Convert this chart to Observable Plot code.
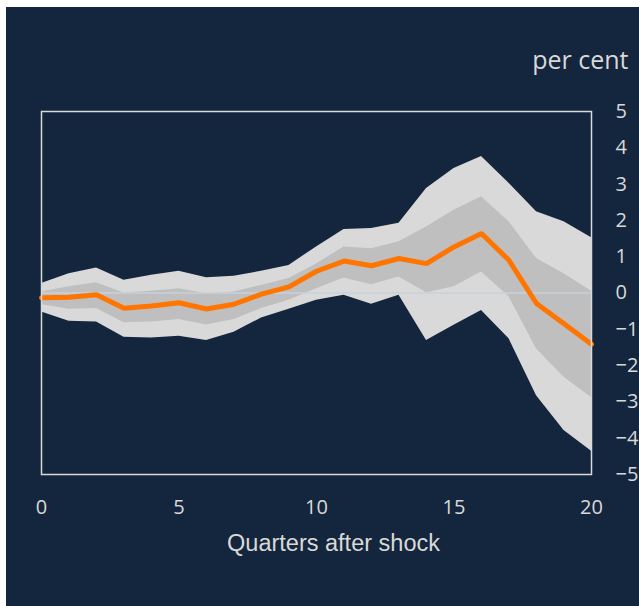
<!DOCTYPE html>
<html>
<head>
<meta charset="utf-8">
<script src="https://cdn.jsdelivr.net/npm/d3@7"></script>
<script src="https://cdn.jsdelivr.net/npm/@observablehq/plot@0.6"></script>
<style>
  html, body { margin: 0; padding: 0; background: #ffffff; width: 639px; height: 606px; overflow: hidden; }
  #bg { position: absolute; left: 6px; top: 7px; width: 633px; height: 599px; background: #13263d; }
  #chart { position: absolute; left: 0; top: 0; }
</style>
</head>
<body>
<div id="bg"></div>
<div id="chart"></div>
<script>
const quarters = [0,1,2,3,4,5,6,7,8,9,10,11,12,13,14,15,16,17,18,19,20];
const median = [-0.13,-0.12,-0.05,-0.42,-0.36,-0.27,-0.44,-0.31,-0.03,0.17,0.6,0.88,0.75,0.95,0.81,1.27,1.64,0.9,-0.29,-0.85,-1.41];
const outerUpper = [0.26,0.53,0.69,0.35,0.49,0.6,0.42,0.46,0.6,0.76,1.27,1.75,1.78,1.92,2.88,3.43,3.76,3.02,2.24,1.96,1.52];
const innerUpper = [0.03,0.17,0.28,0.0,0.05,0.12,-0.02,0.03,0.21,0.4,0.8,1.27,1.22,1.41,1.82,2.28,2.65,1.96,0.95,0.53,0.05];
const innerLower = [-0.32,-0.45,-0.43,-0.82,-0.8,-0.73,-0.88,-0.73,-0.43,-0.2,0.12,0.41,0.23,0.44,0.01,0.17,0.58,-0.1,-1.54,-2.32,-2.88];
const outerLower = [-0.52,-0.78,-0.8,-1.22,-1.24,-1.19,-1.31,-1.08,-0.69,-0.45,-0.2,-0.06,-0.31,-0.06,-1.31,-0.89,-0.48,-1.26,-2.83,-3.79,-4.36];
const xTicks = [0,5,10,15,20];
const yTicks = [5,4,3,2,1,0,-1,-2,-3,-4,-5];
const unitLabel = "per cent";
const xTitle = "Quarters after shock";

const data = quarters.map((q, i) => ({
  q, med: median[i], ou: outerUpper[i], iu: innerUpper[i], il: innerLower[i], ol: outerLower[i]
}));

const chart = Plot.plot({
  width: 639,
  height: 606,
  marginLeft: 41,
  marginRight: 48,
  marginTop: 111,
  marginBottom: 132,
  style: { background: "transparent", color: "#d9d9d9", fontFamily: "'Open Sans', sans-serif" },
  x: { domain: [0, 20] },
  y: { domain: [-5, 5] },
  marks: [
    Plot.areaY(data, { x: "q", y1: "ol", y2: "ou", fill: "#d9d9d9" }),
    Plot.areaY(data, { x: "q", y1: "il", y2: "iu", fill: "#bfbfbf" }),
    Plot.ruleY([0], { stroke: "#c8d0da", strokeWidth: 1.5 }),
    Plot.line(data, { x: "q", y: "med", stroke: "#ff7500", strokeWidth: 5, strokeLinejoin: "miter" }),
    Plot.frame({ stroke: "#d9d9d9", strokeWidth: 1.5 }),
    Plot.axisX({ ticks: xTicks, tickSize: 0, tickPadding: 25, fontSize: 20, label: null, fill: "#d9d9d9" }),
    Plot.axisY({ anchor: "right", ticks: yTicks, tickSize: 0, tickPadding: 24, fontSize: 20, label: null, textAnchor: "start", fill: "#d9d9d9" }),
    Plot.text([xTitle], { frameAnchor: "bottom", dx: 17, dy: 68.5, fontSize: 23.5, fill: "#d9d9d9", fontFamily: "'Liberation Sans', Arial, sans-serif", lineAnchor: "middle" }),
    Plot.text([unitLabel], { frameAnchor: "top-right", dx: 37, dy: -50.5, textAnchor: "end", lineAnchor: "middle", fontSize: 25, fill: "#d9d9d9" })
  ]
});
document.getElementById("chart").appendChild(chart);
</script>
</body>
</html>
